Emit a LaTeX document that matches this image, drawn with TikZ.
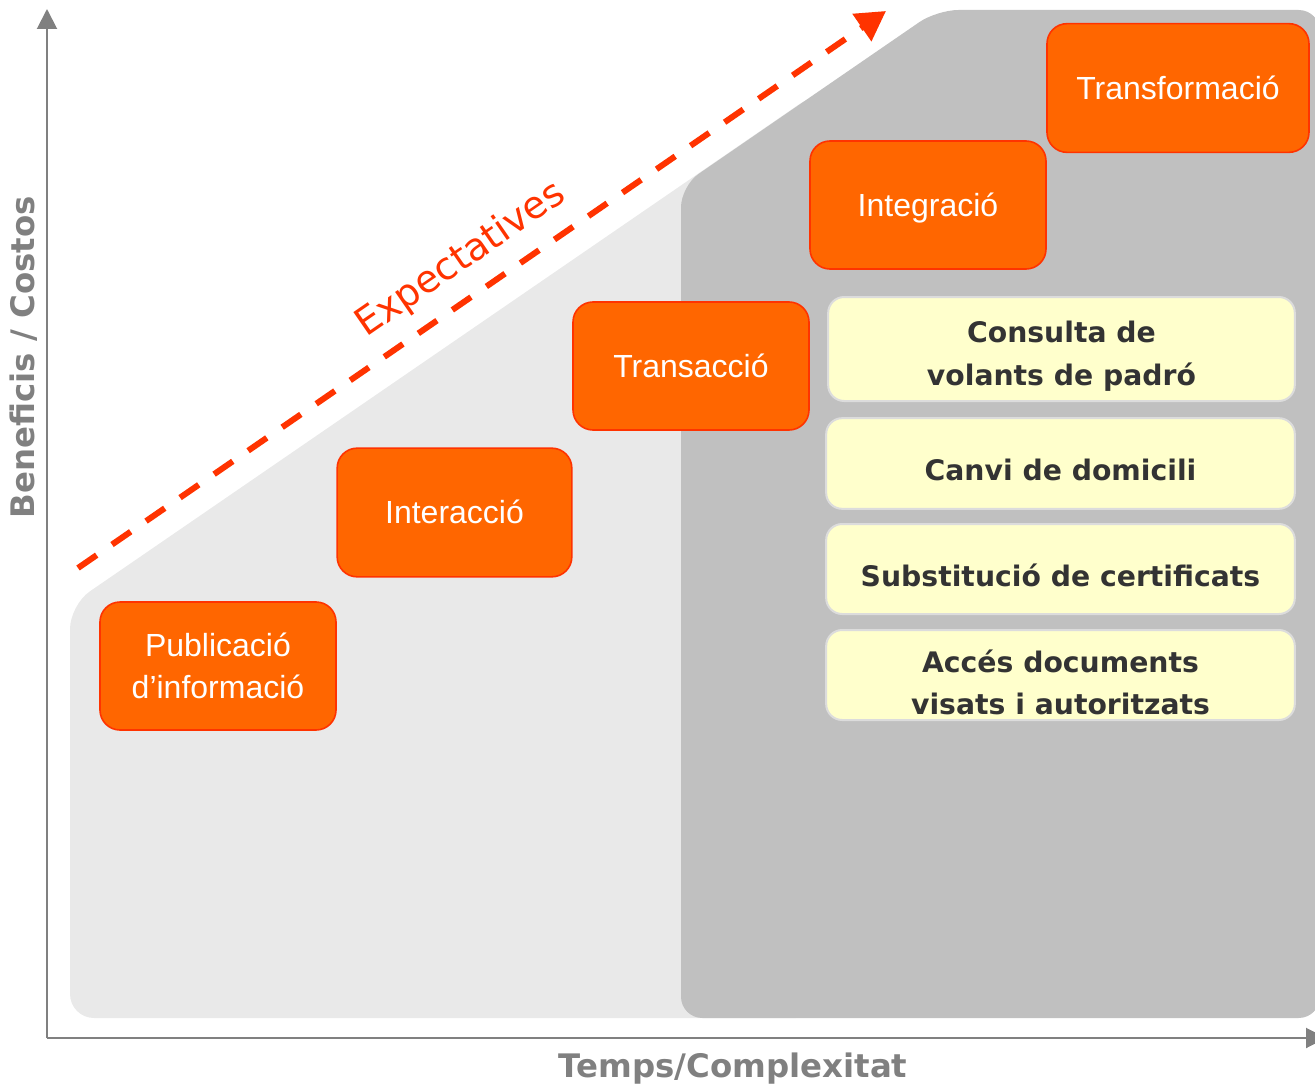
\documentclass[tikz,border=0pt]{standalone}
\usepackage{fontspec}
\setmainfont{Liberation Sans}
\newfontfamily\vfont{DejaVu Sans}
\usetikzlibrary{arrows.meta}
\definecolor{orfill}{HTML}{FF6600}
\definecolor{ordraw}{HTML}{FF3300}
\definecolor{redx}{HTML}{FF3300}
\definecolor{lgrey}{HTML}{E9E9E9}
\definecolor{dgrey}{HTML}{C0C0C0}
\definecolor{yfill}{HTML}{FFFFCC}
\definecolor{ydraw}{HTML}{DCDCDC}
\definecolor{ytextc}{HTML}{333333}
\definecolor{axisc}{HTML}{808080}
\begin{document}
\begin{tikzpicture}[x=0.75pt,y=-0.75pt,
  obox/.style={draw=ordraw, fill=orfill, line width=1.2pt, rounded corners=15pt,
    text=white, font=\fontsize{24}{31.5}\selectfont, align=center, inner sep=0pt},
  oneline/.style={text height=17.2pt, text depth=0pt},
  ybox/.style={draw=ydraw, fill=yfill, line width=1.5pt, rounded corners=12pt, inner sep=0pt},
  ytxt/.style={text=ytextc, font=\vfont\bfseries\fontsize{21.2}{32}\selectfont, align=center, inner sep=0pt},
  axislbl/.style={text=axisc, font=\vfont\bfseries\fontsize{24.3}{28}\selectfont},
  axisline/.style={draw=axisc, line width=1.5pt, -{Triangle[width=15pt,length=15pt]}},
  expline/.style={draw=redx, line width=4.5pt, dash pattern=on 17pt off 14pt, -{Triangle[width=24pt,length=22pt]}}
]
\useasboundingbox (0,0) rectangle (1315,1088);
\clip (0,0) rectangle (1315,1088);

% background areas
\fill[lgrey, rounded corners=18pt] (500,1018) -- (70,1018) -- (70,605) -- (820,90) -- (820,1018) -- cycle;
\fill[dgrey, rounded corners=16pt] (1000,1018) -- (681,1018) -- (681,186) -- (937,10) -- (1320,10) -- (1320,1018) -- cycle;

% axes
\coordinate (o) at (47,1038);
\coordinate (ytip) at (47,9);
\coordinate (xtip) at (1326,1038);
\draw[axisline] (o) -- (ytip);
\draw[axisline] (o) -- (xtip);
\node[axislbl, rotate=90] (ylbl) at (24,357) {Beneficis / Costos};
\node[axislbl] (xlbl) at (733,1069) {Temps/Complexitat};

% expectations arrow
\coordinate (es) at (78,568);
\coordinate (ee) at (886,11);
\draw[expline] (es) -- (ee);
\node[text=redx, font=\vfont\fontsize{28.5}{34}\selectfont, rotate=34.6] (expt) at (461,260) {Expectatives};

% stages
\node[obox, minimum width=177pt, minimum height=96pt] (pub) at (218,666) {Publicació\\d’informació};
\node[obox, oneline, minimum width=176pt, minimum height=96.5pt] (inter) at (454.5,512.5) {Interacció};
\node[obox, oneline, minimum width=177pt, minimum height=96pt] (trans) at (691,366) {Transacció};
\node[obox, oneline, minimum width=177pt, minimum height=96pt] (integ) at (928,205) {Integració};
\node[obox, oneline, minimum width=196.5pt, minimum height=96.5pt] (transf) at (1178,88) {Transformació};

% services
\node[ybox, minimum width=350pt, minimum height=78pt] (cons) at (1061.5,349) {};
\node[ytxt] (consT) at ([yshift=-5.5pt]cons.center) {Consulta de\\volants de padró};
\node[ybox, minimum width=351.5pt, minimum height=68pt] (canvi) at (1060.5,463.5) {};
\node[ytxt] (canviT) at ([yshift=-5pt]canvi.center) {Canvi de domicili};
\node[ybox, minimum width=351.5pt, minimum height=67.5pt] (subst) at (1060.5,569) {};
\node[ytxt] (substT) at ([yshift=-5pt]subst.center) {Substitució de certificats};
\node[ybox, minimum width=351.5pt, minimum height=67.5pt] (acces) at (1060.5,675) {};
\node[ytxt] (accesT) at ([yshift=-5.5pt]acces.center) {Accés documents\\visats i autoritzats};
\end{tikzpicture}
\end{document}
